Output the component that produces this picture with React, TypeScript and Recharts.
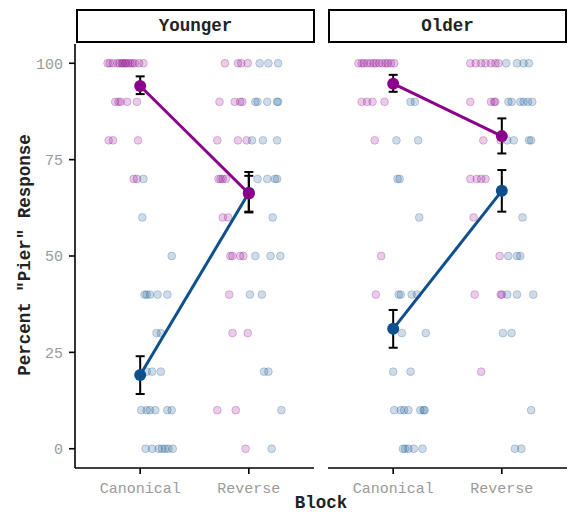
import React from 'react';
import { ScatterChart, Scatter, XAxis, YAxis, ErrorBar } from 'recharts';

const FONT = '"Liberation Mono", "Courier New", monospace';
const PURPLE = '#8B008B';
const BLUE = '#0E4F8E';
const TICK_GREY = '#9a9a9a';

const blocks = ['Canonical', 'Reverse'];
const blockTicks = [1, 2];
const yTicks = [0, 25, 50, 75, 100];

// jittered responses: [percent, horizontal offsets from the block centre]
const youngerCanPurple: [number, number[]][] = [
  [100, [-0.3, -0.28, -0.25, -0.21, -0.19, -0.17, -0.16, -0.14, -0.13, -0.11, -0.09, -0.07, -0.05, -0.01, 0.03]],
  [90, [-0.23, -0.2, -0.18, -0.12, -0.03]],
  [80, [-0.29, -0.25, -0.02]],
  [70, [-0.06, -0.03]],
];
const youngerCanBlue: [number, number[]][] = [
  [70, [0.03]],
  [60, [0.02]],
  [50, [0.29]],
  [40, [0.04, 0.06, 0.09, 0.16, 0.25]],
  [30, [0.15, 0.19]],
  [20, [0.06, 0.11, 0.19]],
  [10, [0.01, 0.06, 0.09, 0.14, 0.25, 0.29]],
  [0, [0.05, 0.11, 0.17, 0.2, 0.23, 0.26, 0.3]],
];
const youngerRevPurple: [number, number[]][] = [
  [100, [-0.22, -0.1, -0.07, -0.01]],
  [90, [-0.27, -0.13, -0.08, -0.06]],
  [80, [-0.29, -0.1, -0.02]],
  [70, [-0.28, -0.26, -0.24, -0.21]],
  [60, [-0.24, -0.19]],
  [50, [-0.17, -0.15, -0.08, -0.05]],
  [40, [-0.18]],
  [30, [-0.15, -0.01]],
  [10, [-0.29, -0.12]],
  [0, [-0.03]],
];
const youngerRevBlue: [number, number[]][] = [
  [100, [0.1, 0.18, 0.27]],
  [90, [0.06, 0.08, 0.17, 0.26, 0.27]],
  [80, [0.03, 0.13, 0.26]],
  [70, [0.08, 0.17, 0.24, 0.26]],
  [60, [0.22]],
  [50, [0.06, 0.2, 0.29]],
  [40, [0.01, 0.12]],
  [20, [0.14, 0.18]],
  [10, [0.3]],
  [0, [0.21]],
];

const olderCanPurple: [number, number[]][] = [
  [100, [-0.32, -0.29, -0.27, -0.24, -0.21, -0.18, -0.16, -0.13, -0.1, -0.07, -0.05, -0.02, 0.01]],
  [90, [-0.29, -0.24, -0.19, -0.08]],
  [80, [-0.17]],
  [50, [-0.11]],
  [40, [-0.16]],
];
const olderCanBlue: [number, number[]][] = [
  [90, [0.16, 0.2]],
  [80, [0.03, 0.23]],
  [70, [0.04, 0.06]],
  [60, [0.24]],
  [40, [0.05, 0.07, 0.17, 0.22]],
  [30, [0.08, 0.3]],
  [20, [0.0, 0.16]],
  [10, [0.01, 0.07, 0.1, 0.14, 0.25, 0.28, 0.29]],
  [0, [0.09, 0.11, 0.14, 0.19, 0.27]],
];
const olderRevPurple: [number, number[]][] = [
  [100, [-0.29, -0.24, -0.19, -0.15, -0.1, -0.06, -0.03]],
  [90, [-0.29, -0.1, -0.07, -0.06]],
  [80, [-0.17, -0.01]],
  [70, [-0.29, -0.23, -0.19, -0.15]],
  [60, [-0.26]],
  [50, [-0.02]],
  [40, [-0.25, -0.01, 0.0]],
  [20, [-0.19]],
];
const olderRevBlue: [number, number[]][] = [
  [100, [0.04, 0.14, 0.2, 0.25]],
  [90, [0.06, 0.09, 0.17, 0.2, 0.24, 0.28]],
  [80, [0.05, 0.11, 0.25, 0.27]],
  [60, [0.19]],
  [50, [0.06, 0.14, 0.17]],
  [40, [0.05, 0.14, 0.29]],
  [30, [0.01, 0.09]],
  [10, [0.27]],
  [0, [0.12, 0.18]],
];

// group means per block (Canonical, Reverse) with error bar limits
const youngerPurpleMean = [94.1, 66.2];
const youngerPurpleCI = [[92.0, 96.6], [61.3, 70.8]];
const youngerBlueMean = [19.1, 66.4];
const youngerBlueCI = [[14.2, 24.0], [61.5, 71.8]];
const olderPurpleMean = [94.7, 81.1];
const olderPurpleCI = [[92.6, 97.0], [76.6, 85.7]];
const olderBlueMean = [31.1, 66.9];
const olderBlueCI = [[26.2, 36.0], [61.5, 72.3]];

function jitter(rows: [number, number[]][], block: number) {
  return rows.flatMap(([y, dxs]) => dxs.map((dx) => ({ x: block + dx, y })));
}

function meanPoints(means: number[], ci: number[][]) {
  return means.map((m, i) => ({ x: blockTicks[i], y: m, err: [m - ci[i][0], ci[i][1] - m] }));
}

const dot = (color: string) => (p: any) =>
  <circle cx={p.cx} cy={p.cy} r={3.9} fill={color} fillOpacity={0.2} stroke={color} strokeOpacity={0.24} strokeWidth={1} />;

const bigDot = (color: string) => (p: any) => <circle cx={p.cx} cy={p.cy} r={6} fill={color} />;

type PanelProps = {
  showY: boolean;
  width: number;
  canPurple: [number, number[]][];
  canBlue: [number, number[]][];
  revPurple: [number, number[]][];
  revBlue: [number, number[]][];
  purpleMean: number[];
  purpleCI: number[][];
  blueMean: number[];
  blueCI: number[][];
};

function Panel(props: PanelProps) {
  const purplePts = [...jitter(props.canPurple, 1), ...jitter(props.revPurple, 2)];
  const bluePts = [...jitter(props.canBlue, 1), ...jitter(props.revBlue, 2)];
  const purpleMeans = meanPoints(props.purpleMean, props.purpleCI);
  const blueMeans = meanPoints(props.blueMean, props.blueCI);
  const tickStyle = { fill: TICK_GREY, fontSize: 15, fontFamily: FONT };
  return (
    <ScatterChart width={props.width} height={512} margin={{ top: 44, right: 3, bottom: 14, left: 0 }}>
      <XAxis
        type="number"
        dataKey="x"
        domain={[0.4, 2.6]}
        ticks={blockTicks}
        tickFormatter={(v) => blocks[v - 1]}
        allowDataOverflow
        height={30}
        tickSize={6}
        tickMargin={8}
        tick={tickStyle}
        axisLine={{ stroke: '#000', strokeWidth: 1.6 }}
        tickLine={{ stroke: '#000', strokeWidth: 1.6 }}
      />
      <YAxis
        type="number"
        dataKey="y"
        domain={[-5, 105]}
        ticks={yTicks}
        allowDataOverflow
        hide={!props.showY}
        width={props.showY ? 75 : 0}
        tickSize={6}
        tickMargin={6}
        tick={tickStyle}
        axisLine={{ stroke: '#000', strokeWidth: 1.6 }}
        tickLine={{ stroke: '#000', strokeWidth: 1.6 }}
      />
      <Scatter data={purplePts} shape={dot(PURPLE)} isAnimationActive={false} />
      <Scatter data={bluePts} shape={dot(BLUE)} isAnimationActive={false} />
      <Scatter data={blueMeans} shape={bigDot(BLUE)} line={{ stroke: BLUE, strokeWidth: 3 }} isAnimationActive={false} />
      <Scatter data={purpleMeans} shape={bigDot(PURPLE)} line={{ stroke: PURPLE, strokeWidth: 3 }} isAnimationActive={false} />
      <Scatter data={blueMeans} shape={() => <g />} isAnimationActive={false}>
        <ErrorBar dataKey="err" direction="y" width={4.5} stroke="#000" strokeWidth={2} isAnimationActive={false} />
      </Scatter>
      <Scatter data={purpleMeans} shape={() => <g />} isAnimationActive={false}>
        <ErrorBar dataKey="err" direction="y" width={4.5} stroke="#000" strokeWidth={2} isAnimationActive={false} />
      </Scatter>
    </ScatterChart>
  );
}

const stripStyle: React.CSSProperties = {
  position: 'absolute',
  top: 9,
  height: 34,
  boxSizing: 'border-box',
  border: '2px solid #000',
  background: '#fff',
  display: 'flex',
  alignItems: 'center',
  justifyContent: 'center',
  fontFamily: FONT,
  fontWeight: 'bold',
  fontSize: 17.5,
  color: '#222',
};

export default function App() {
  return (
    <div style={{ position: 'fixed', left: 0, top: 0, width: 570, height: 512, background: '#fff', overflow: 'hidden' }}>
      <div style={{ position: 'absolute', left: 0, top: 0 }}>
        <Panel
          showY
          width={317}
          canPurple={youngerCanPurple}
          canBlue={youngerCanBlue}
          revPurple={youngerRevPurple}
          revBlue={youngerRevBlue}
          purpleMean={youngerPurpleMean}
          purpleCI={youngerPurpleCI}
          blueMean={youngerBlueMean}
          blueCI={youngerBlueCI}
        />
      </div>
      <div style={{ position: 'absolute', left: 328, top: 0 }}>
        <Panel
          showY={false}
          width={242}
          canPurple={olderCanPurple}
          canBlue={olderCanBlue}
          revPurple={olderRevPurple}
          revBlue={olderRevBlue}
          purpleMean={olderPurpleMean}
          purpleCI={olderPurpleCI}
          blueMean={olderBlueMean}
          blueCI={olderBlueCI}
        />
      </div>
      <div style={{ ...stripStyle, left: 76, width: 239 }}>Younger</div>
      <div style={{ ...stripStyle, left: 328, width: 239 }}>Older</div>
      <div
        style={{
          position: 'absolute',
          left: 221,
          width: 200,
          top: 494,
          height: 18,
          lineHeight: '18px',
          textAlign: 'center',
          fontFamily: FONT,
          fontWeight: 'bold',
          fontSize: 17.5,
          color: '#222',
        }}
      >
        Block
      </div>
      <div
        style={{
          position: 'absolute',
          left: 25,
          top: 255,
          transform: 'translate(-50%, -50%) rotate(-90deg)',
          whiteSpace: 'nowrap',
          lineHeight: '18px',
          fontFamily: FONT,
          fontWeight: 'bold',
          fontSize: 17.5,
          color: '#222',
        }}
      >
        Percent "Pier" Response
      </div>
    </div>
  );
}
